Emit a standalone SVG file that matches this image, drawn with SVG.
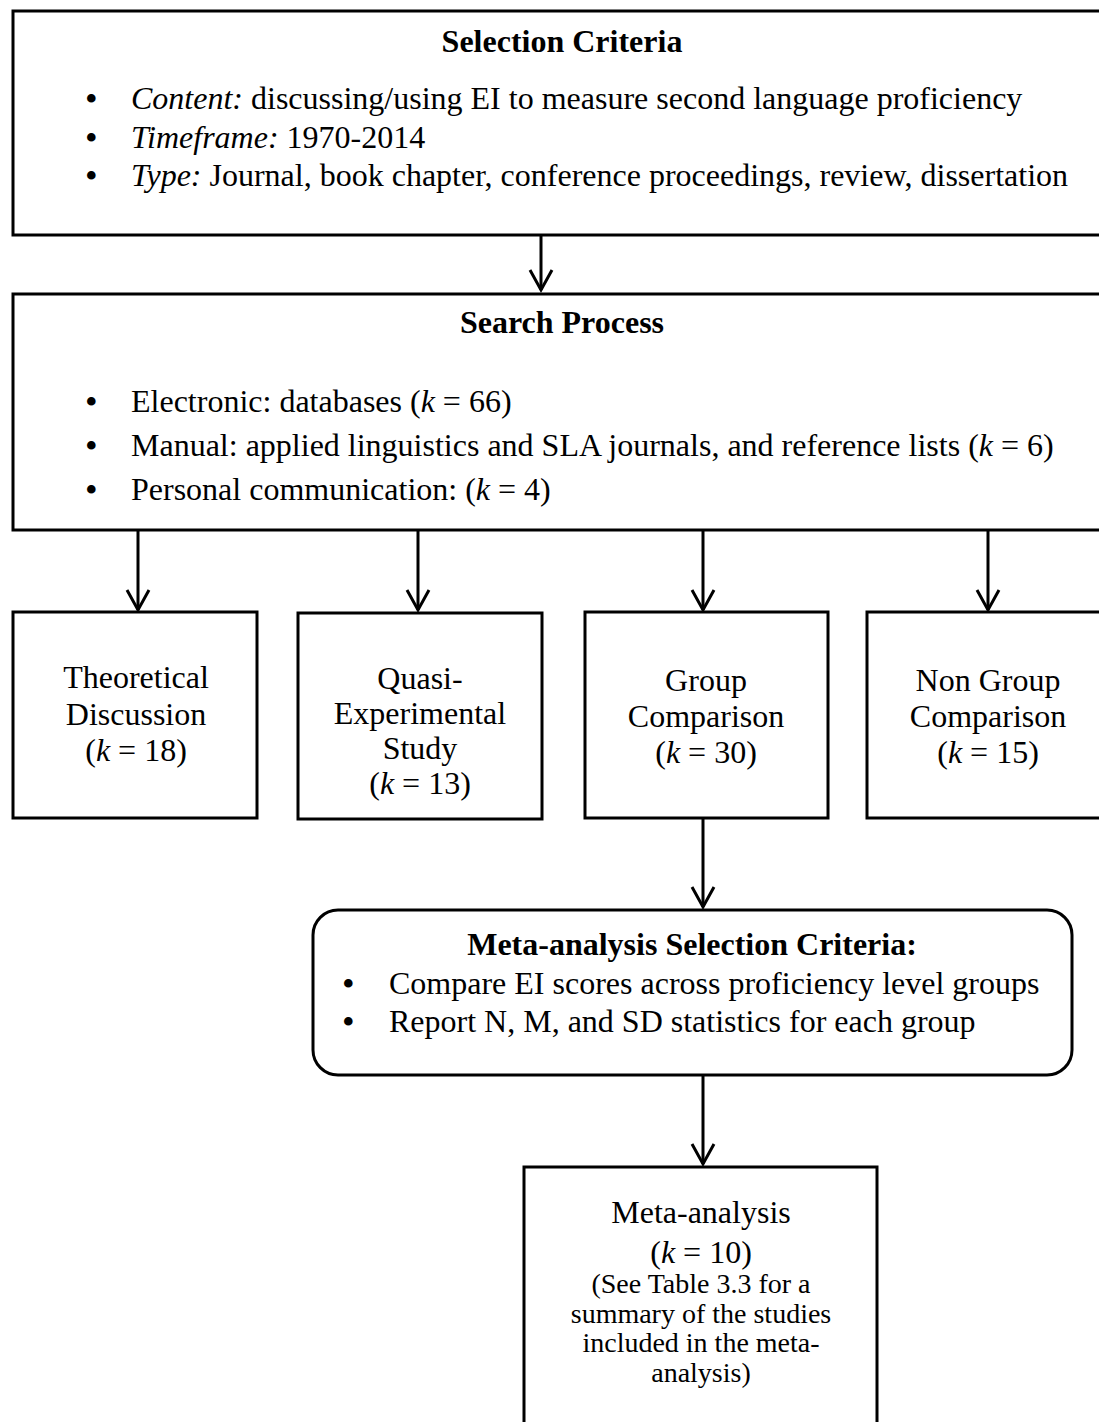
<svg xmlns="http://www.w3.org/2000/svg" width="1099" height="1422" viewBox="0 0 1099 1422">
<style>
text{font-family:"Liberation Serif","Times New Roman",serif;font-size:32px;fill:#000}
.b{font-weight:bold}
.c{text-anchor:middle}
.i{font-style:italic}
.s{font-size:28px}
.bu{font-size:36px}
.box{fill:#fff;stroke:#000;stroke-width:3}
.con{fill:none;stroke:#000;stroke-width:3}
</style>
<defs>
<marker id="ah" markerUnits="userSpaceOnUse" orient="auto" refX="0" refY="0" markerWidth="30" markerHeight="30" overflow="visible">
<path d="M -20,-11 L 0,0 L -20,11" fill="none" stroke="#000" stroke-width="3"/>
</marker>
</defs>
<rect width="1099" height="1422" fill="#fff"/>
<g id="connectors" class="con">
<line x1="541" y1="236" x2="541" y2="290" marker-end="url(#ah)"/>
<line x1="138" y1="531" x2="138" y2="610" marker-end="url(#ah)"/>
<line x1="418" y1="531" x2="418" y2="610" marker-end="url(#ah)"/>
<line x1="703" y1="531" x2="703" y2="610" marker-end="url(#ah)"/>
<line x1="988" y1="531" x2="988" y2="610" marker-end="url(#ah)"/>
<line x1="703" y1="819" x2="703" y2="907" marker-end="url(#ah)"/>
<line x1="703" y1="1076" x2="703" y2="1164" marker-end="url(#ah)"/>
</g>
<g id="selection-criteria">
<rect class="box" x="13" y="11" width="1100" height="224"/>
<text class="b c" x="562" y="52">Selection Criteria</text>
<text class="bu" x="85" y="111">•</text>
<text x="131" y="109"><tspan class="i">Content:</tspan> discussing/using EI to measure second language proficiency</text>
<text class="bu" x="85" y="150">•</text>
<text x="131" y="148"><tspan class="i">Timeframe:</tspan> 1970-2014</text>
<text class="bu" x="85" y="188">•</text>
<text x="131" y="186"><tspan class="i">Type:</tspan> Journal, book chapter, conference proceedings, review, dissertation</text>
</g>
<g id="search-process">
<rect class="box" x="13" y="294" width="1100" height="236"/>
<text class="b c" x="562" y="333">Search Process</text>
<text class="bu" x="85" y="414">•</text>
<text x="131" y="412">Electronic: databases (<tspan class="i">k</tspan> = 66)</text>
<text class="bu" x="85" y="458">•</text>
<text x="131" y="456">Manual: applied linguistics and SLA journals, and reference lists (<tspan class="i">k</tspan> = 6)</text>
<text class="bu" x="85" y="502">•</text>
<text x="131" y="500">Personal communication: (<tspan class="i">k</tspan> = 4)</text>
</g>
<g id="theoretical">
<rect class="box" x="13" y="612" width="244" height="206"/>
<text class="c" x="136" y="688">Theoretical</text>
<text class="c" x="136" y="725">Discussion</text>
<text class="c" x="136" y="761">(<tspan class="i">k</tspan> = 18)</text>
</g>
<g id="quasi">
<rect class="box" x="298" y="613" width="244" height="206"/>
<text class="c" x="420" y="689">Quasi-</text>
<text class="c" x="420" y="724">Experimental</text>
<text class="c" x="420" y="759">Study</text>
<text class="c" x="420" y="794">(<tspan class="i">k</tspan> = 13)</text>
</g>
<g id="group">
<rect class="box" x="585" y="612" width="243" height="206"/>
<text class="c" x="706" y="691">Group</text>
<text class="c" x="706" y="727">Comparison</text>
<text class="c" x="706" y="763">(<tspan class="i">k</tspan> = 30)</text>
</g>
<g id="nongroup">
<rect class="box" x="867" y="612" width="260" height="206"/>
<text class="c" x="988" y="691">Non Group</text>
<text class="c" x="988" y="727">Comparison</text>
<text class="c" x="988" y="763">(<tspan class="i">k</tspan> = 15)</text>
</g>
<g id="meta-criteria">
<rect class="box" x="313" y="910" width="759" height="165" rx="25" ry="25"/>
<text class="b c" x="692" y="955">Meta-analysis Selection Criteria:</text>
<text class="bu" x="342" y="996">•</text>
<text x="389" y="994">Compare EI scores across proficiency level groups</text>
<text class="bu" x="342" y="1034">•</text>
<text x="389" y="1032">Report N, M, and SD statistics for each group</text>
</g>
<g id="meta-analysis">
<rect class="box" x="524" y="1167" width="353" height="300"/>
<text class="c" x="701" y="1223">Meta-analysis</text>
<text class="c" x="701" y="1263">(<tspan class="i">k</tspan> = 10)</text>
<text class="c s" x="701" y="1293">(See Table 3.3 for a</text>
<text class="c s" x="701" y="1323">summary of the studies</text>
<text class="c s" x="701" y="1352">included in the meta-</text>
<text class="c s" x="701" y="1382">analysis)</text>
</g>
</svg>
